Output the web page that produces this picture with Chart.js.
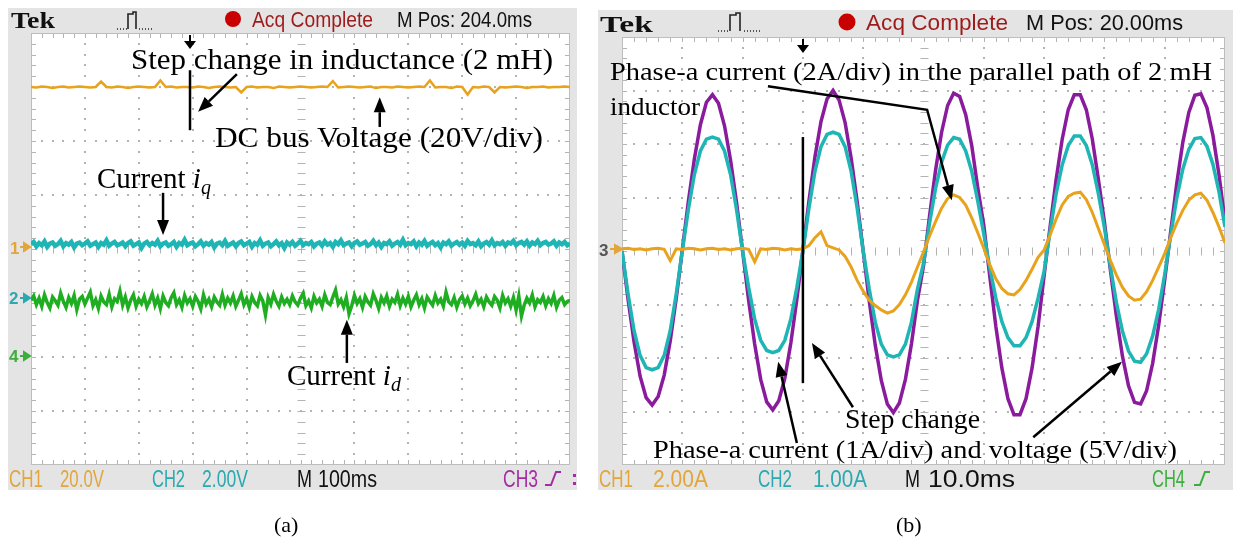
<!DOCTYPE html>
<html><head><meta charset="utf-8">
<script src="https://cdn.jsdelivr.net/npm/chart.js@4.4.1/dist/chart.umd.min.js"></script>
<style>
html,body{margin:0;padding:0;background:#fff;width:1243px;height:542px;overflow:hidden;position:relative}
canvas{position:absolute}
#ov{position:absolute;left:0;top:0;pointer-events:none}
.ser{font-family:'Liberation Serif','Times New Roman',serif}
.scp{font-family:'Liberation Sans Narrow','Liberation Sans',Arial,sans-serif}
</style></head><body>
<canvas id="ca" width="569" height="482" style="left:8px;top:8px"></canvas>
<canvas id="cb" width="635" height="480" style="left:598px;top:10px"></canvas>
<svg id="ov" width="1243" height="542" xmlns="http://www.w3.org/2000/svg">
  <!-- panel (a) header -->
  <text class="ser" x="11" y="28" font-size="23" font-weight="bold" textLength="44" lengthAdjust="spacingAndGlyphs" fill="#111">Tek</text>
  <path d="M117,29 h1 M120,29 h1 M123,29 h1 M126,29 h1 M128,29 V14 H133 V12 H136 V29 M139,29 h1 M142,29 h1 M145,29 h1 M148,29 h1 M151,29 h1" stroke="#222" stroke-width="1.6" fill="none"/>
  <circle cx="233" cy="19" r="8" fill="#c80000"/>
  <text class="scp" x="252" y="27" font-size="22" textLength="121" lengthAdjust="spacingAndGlyphs" fill="#9e1b1b">Acq Complete</text>
  <text class="scp" x="397" y="27" font-size="22" textLength="135" lengthAdjust="spacingAndGlyphs" fill="#111">M Pos: 204.0ms</text>
  <!-- panel (a) status -->
  <text class="scp" x="9" y="487" font-size="24" textLength="34" lengthAdjust="spacingAndGlyphs" fill="#e2a63a">CH1</text>
  <text class="scp" x="60" y="487" font-size="24" textLength="44" lengthAdjust="spacingAndGlyphs" fill="#e2a63a">20.0V</text>
  <text class="scp" x="152" y="487" font-size="24" textLength="33" lengthAdjust="spacingAndGlyphs" fill="#2aa9b0">CH2</text>
  <text class="scp" x="202" y="487" font-size="24" textLength="46" lengthAdjust="spacingAndGlyphs" fill="#2aa9b0">2.00V</text>
  <text class="scp" x="297" y="487" font-size="24" textLength="15" lengthAdjust="spacingAndGlyphs" fill="#111">M</text>
  <text class="scp" x="318" y="487" font-size="24" textLength="59" lengthAdjust="spacingAndGlyphs" fill="#111">100ms</text>
  <text class="scp" x="503" y="487" font-size="24" textLength="35" lengthAdjust="spacingAndGlyphs" fill="#a52aa5">CH3</text>
  <path d="M545,485 H551 L556,472 H561" stroke="#a52aa5" stroke-width="2" fill="none"/>
  <rect x="573" y="474" width="3" height="3" fill="#a52aa5"/><rect x="573" y="482" width="3" height="3" fill="#a52aa5"/>
  <!-- panel (a) channel markers -->
  <text class="scp" x="10" y="254" font-size="17" font-weight="bold" fill="#e2a63a">1</text>
  <path d="M20,247 H25 M24,243 L30,247 L24,251 Z" stroke="#e2a63a" stroke-width="2" fill="#e2a63a"/>
  <text class="scp" x="9" y="304" font-size="17" font-weight="bold" fill="#2aa9b0">2</text>
  <path d="M20,298 H25 M24,294 L30,298 L24,302 Z" stroke="#2aa9b0" stroke-width="2" fill="#2aa9b0"/>
  <text class="scp" x="9" y="362" font-size="17" font-weight="bold" fill="#3cae3c">4</text>
  <path d="M20,356 H25 M24,352 L30,356 L24,360 Z" stroke="#3cae3c" stroke-width="2" fill="#3cae3c"/>
  <!-- panel (a) annotations -->
  <text class="ser" x="131" y="69" font-size="29" textLength="422" lengthAdjust="spacingAndGlyphs" fill="#000">Step change in inductance (2 mH)</text>
  <text class="ser" x="215" y="147" font-size="29" textLength="328" lengthAdjust="spacingAndGlyphs" fill="#000">DC bus Voltage (20V/div)</text>
  <text class="ser" x="97" y="188" font-size="29" fill="#000">Current <tspan font-style="italic">i</tspan><tspan font-style="italic" font-size="20" dy="6">q</tspan></text>
  <text class="ser" x="287" y="385" font-size="29" fill="#000">Current <tspan font-style="italic">i</tspan><tspan font-style="italic" font-size="20" dy="6">d</tspan></text>
  <text class="ser" x="274" y="532" font-size="22" fill="#000">(a)</text>

  <!-- panel (b) header -->
  <text class="ser" x="600" y="32" font-size="24" font-weight="bold" textLength="53" lengthAdjust="spacingAndGlyphs" fill="#111">Tek</text>
  <path d="M718,31 h1 M721,31 h1 M724,31 h1 M727,31 h1 M730,31 V15 H736 V13 H740 V31 M744,31 h1 M747,31 h1 M750,31 h1 M753,31 h1 M756,31 h1 M759,31 h1" stroke="#222" stroke-width="1.6" fill="none"/>
  <circle cx="847" cy="22" r="8.5" fill="#c80000"/>
  <text class="scp" x="866" y="30" font-size="22" textLength="142" lengthAdjust="spacingAndGlyphs" fill="#9e1b1b">Acq Complete</text>
  <text class="scp" x="1026" y="30" font-size="22" textLength="157" lengthAdjust="spacingAndGlyphs" fill="#111">M Pos: 20.00ms</text>
  <!-- panel (b) status -->
  <text class="scp" x="599" y="487" font-size="24" textLength="34" lengthAdjust="spacingAndGlyphs" fill="#e2a63a">CH1</text>
  <text class="scp" x="653" y="487" font-size="24" textLength="55" lengthAdjust="spacingAndGlyphs" fill="#e2a63a">2.00A</text>
  <text class="scp" x="758" y="487" font-size="24" textLength="34" lengthAdjust="spacingAndGlyphs" fill="#2aa9b0">CH2</text>
  <text class="scp" x="813" y="487" font-size="24" textLength="54" lengthAdjust="spacingAndGlyphs" fill="#2aa9b0">1.00A</text>
  <text class="scp" x="905" y="487" font-size="24" textLength="15" lengthAdjust="spacingAndGlyphs" fill="#111">M</text>
  <text class="scp" x="928" y="487" font-size="24" textLength="87" lengthAdjust="spacingAndGlyphs" fill="#111">10.0ms</text>
  <text class="scp" x="1152" y="487" font-size="24" textLength="33" lengthAdjust="spacingAndGlyphs" fill="#3cae3c">CH4</text>
  <path d="M1194,485 H1200 L1205,472 H1210" stroke="#3cae3c" stroke-width="2" fill="none"/>
  <!-- panel (b) channel marker -->
  <text class="scp" x="599" y="256" font-size="17" font-weight="bold" fill="#555">3</text>
  <path d="M610,249 H616 M615,245 L622,249 L615,253 Z" stroke="#e2a63a" stroke-width="2" fill="#e2a63a"/>
  <!-- panel (b) annotations -->
  <text class="ser" x="610" y="80" font-size="26" textLength="602" lengthAdjust="spacingAndGlyphs" fill="#000">Phase-a current (2A/div) in the parallel path of 2 mH</text>
  <text class="ser" x="610" y="115" font-size="26" textLength="90" lengthAdjust="spacingAndGlyphs" fill="#000">inductor</text>
  <text class="ser" x="845" y="428" font-size="27" textLength="135" lengthAdjust="spacingAndGlyphs" fill="#000">Step change</text>
  <text class="ser" x="653" y="458" font-size="26" textLength="524" lengthAdjust="spacingAndGlyphs" fill="#000">Phase-a current (1A/div) and voltage (5V/div)</text>
  <text class="ser" x="896" y="532" font-size="22" fill="#000">(b)</text>
</svg>
<script>
// ---- data (values in screen divisions) ----
const coarseStep = 0.1;   // divisions between samples for the smooth traces
const fineStep = 0.05;    // divisions between samples for the noisy dq currents

// (a) 100 ms/div : DC bus voltage (CH1, coarse), current iq (CH2, fine), current id (CH4, fine)
const aDcBus = [3.00,2.99,3.01,3.00,2.98,3.00,3.01,2.99,3.00,3.01,
3.00,2.99,3.00,3.10,3.00,2.99,3.01,3.00,2.98,3.00,
3.01,3.00,2.99,3.00,3.12,3.00,3.01,2.99,3.00,3.00,
2.99,3.01,3.00,2.98,3.00,3.01,3.00,2.99,3.00,2.90,
3.00,3.01,2.99,3.00,3.00,2.98,3.01,3.00,2.99,3.00,
3.01,3.00,2.99,3.00,3.01,3.00,3.11,2.99,3.00,3.01,
3.00,2.99,3.00,3.01,2.98,3.00,3.00,2.99,3.01,3.00,
2.99,3.00,3.01,3.00,3.12,2.99,3.00,3.00,2.98,3.01,
3.00,2.86,3.00,2.99,3.01,3.00,2.90,3.00,2.99,3.00,
3.01,3.00,2.98,3.00,3.00,3.01,2.99,3.00,3.00,3.01,3.00];
const aIq = [0.09,0.13,0.05,0.11,0.07,0.14,0.04,0.10,0.12,0.06,0.09,0.15,0.05,0.11,0.08,0.13,0.03,0.10,0.12,0.07,
0.10,0.14,0.06,0.09,0.12,0.04,0.11,0.08,0.16,0.06,0.10,0.13,0.07,0.09,0.12,0.05,0.11,0.14,0.06,0.09,
0.12,0.02,0.10,0.13,0.07,0.11,0.08,0.15,0.05,0.10,0.12,0.06,0.09,0.13,0.04,0.11,0.08,0.17,0.07,0.10,
0.12,0.05,0.09,0.14,0.06,0.11,0.08,0.13,0.03,0.10,0.12,0.07,0.15,0.06,0.09,0.12,0.05,0.11,0.14,0.07,
0.10,0.13,0.04,0.11,0.08,0.16,0.06,0.10,0.12,0.05,0.09,0.14,0.07,0.11,0.02,0.12,0.08,0.13,0.06,0.10,
0.15,0.07,0.11,0.09,0.13,0.05,0.10,0.12,0.06,0.14,0.08,0.11,0.04,0.13,0.09,0.16,0.07,0.10,0.12,0.05,
0.11,0.14,0.08,0.10,0.13,0.06,0.09,0.15,0.07,0.12,0.04,0.11,0.09,0.14,0.06,0.10,0.13,0.08,0.17,0.07,
0.11,0.09,0.14,0.05,0.12,0.08,0.15,0.06,0.10,0.13,0.07,0.11,0.03,0.12,0.09,0.14,0.06,0.10,0.13,0.08,
0.12,0.06,0.15,0.09,0.11,0.07,0.14,0.05,0.10,0.13,0.08,0.16,0.07,0.11,0.09,0.13,0.06,0.12,0.10,0.15,
0.07,0.11,0.13,0.08,0.14,0.06,0.12,0.09,0.15,0.07,0.11,0.13,0.08,0.10,0.14,0.06,0.12,0.09,0.13,0.07,0.10];
const aId = [-0.95,-0.87,-1.03,-0.91,-1.06,-0.85,-0.99,-1.09,-0.89,-0.96,-1.04,-0.82,-0.97,-1.08,-0.90,-1.01,-0.86,-1.12,-0.93,-0.88,
-1.02,-0.91,-0.80,-1.05,-0.94,-1.10,-0.87,-0.98,-1.03,-0.84,-1.07,-0.92,-0.97,-0.78,-1.04,-0.89,-1.09,-0.95,-0.85,-1.06,
-0.93,-1.01,-0.88,-1.07,-0.96,-0.83,-1.04,-0.91,-1.10,-0.87,-0.99,-1.05,-0.90,-0.81,-1.03,-0.94,-1.08,-0.86,-1.00,-0.92,
-1.06,-0.88,-0.97,-1.11,-0.85,-1.02,-0.93,-1.07,-0.89,-0.98,-1.04,-0.84,-1.04,-0.91,-1.00,-0.87,-1.06,-0.95,-0.83,-1.03,
-0.92,-1.08,-0.88,-0.99,-1.05,-0.86,-0.96,-1.22,-0.90,-1.02,-0.84,-0.97,-1.06,-0.89,-1.01,-0.93,-1.03,-0.87,-0.98,-1.04,
-0.91,-0.82,-1.05,-0.96,-1.09,-0.88,-1.00,-0.93,-1.06,-0.85,-0.99,-1.03,-0.89,-0.76,-1.02,-0.94,-1.07,-0.90,-1.20,-1.05,
-0.86,-1.01,-0.92,-1.08,-0.88,-0.98,-1.04,-0.83,-0.95,-1.10,-0.90,-1.00,-0.87,-1.06,-0.93,-0.99,-0.84,-1.05,-0.91,-1.02,
-0.88,-1.07,-0.95,-0.85,-1.03,-0.92,-1.09,-0.89,-0.97,-1.04,-0.86,-1.00,-0.93,-1.06,-0.80,-0.98,-1.03,-0.90,-1.08,-0.94,
-0.87,-1.02,-0.91,-1.05,-0.96,-0.84,-1.01,-0.93,-1.07,-0.89,-0.98,-1.04,-0.88,-0.95,-1.09,-0.86,-1.00,-0.92,-1.06,-0.90,
-1.13,-0.87,-1.24,-1.04,-0.91,-1.00,-0.85,-1.07,-0.94,-0.99,-0.88,-1.05,-0.92,-1.01,-0.86,-1.08,-0.95,-0.90,-1.03,-0.97,-0.95];

// (b) 10 ms/div : phase-a voltage (purple), phase-a current (cyan), parallel-path current (orange)
const bVoltage = [0.00,-0.90,-1.70,-2.34,-2.74,-2.88,-2.72,-2.32,-1.68,-0.88,
0.02,0.92,1.72,2.36,2.78,2.92,2.76,2.34,1.70,0.90,
0.00,-0.92,-1.74,-2.40,-2.82,-2.97,-2.80,-2.38,-1.72,-0.90,
0.02,0.93,1.76,2.42,2.84,3.00,2.82,2.40,1.74,0.92,
0.00,-0.93,-1.76,-2.42,-2.86,-3.02,-2.84,-2.40,-1.74,-0.92,
-0.28,0.65,1.51,2.22,2.72,2.95,2.89,2.55,1.97,1.18,
0.48,-0.48,-1.41,-2.19,-2.76,-3.06,-3.06,-2.76,-2.19,-1.41,
-0.46,0.46,1.34,2.09,2.64,2.92,2.92,2.64,2.09,1.34,
0.54,-0.36,-1.23,-1.97,-2.52,-2.83,-2.86,-2.61,-2.10,-1.39,
-0.54,0.37,1.26,2.03,2.59,2.91,2.94,2.68,2.16,1.43,0.55];
const bCurrent = [0.00,-0.80,-1.49,-1.95,-2.18,-2.22,-2.18,-1.95,-1.49,-0.80,
0.00,0.77,1.43,1.87,2.09,2.13,2.09,1.87,1.43,0.77,
0.00,-0.68,-1.27,-1.67,-1.86,-1.90,-1.86,-1.67,-1.27,-0.68,
0.00,0.80,1.49,1.95,2.18,2.22,2.18,1.95,1.49,0.80,
0.00,-0.71,-1.33,-1.74,-1.94,-1.98,-1.94,-1.74,-1.33,-0.71,
-0.23,0.52,1.17,1.66,1.98,2.12,2.09,1.87,1.49,0.93,
0.32,-0.32,-0.88,-1.32,-1.62,-1.77,-1.77,-1.62,-1.32,-0.88,
-0.38,0.38,1.07,1.61,1.97,2.15,2.15,1.97,1.61,1.07,
0.44,-0.30,-0.97,-1.50,-1.87,-2.06,-2.08,-1.92,-1.59,-1.09,
-0.44,0.30,0.99,1.53,1.90,2.10,2.12,1.96,1.62,1.11,0.45];
const bParallel = [0.04,0.05,0.03,0.04,0.02,0.04,0.05,0.03,-0.18,0.04,
0.03,0.05,0.04,0.02,0.04,0.05,0.03,0.04,0.02,0.04,
0.05,0.03,-0.20,0.04,0.03,0.05,0.04,0.02,0.04,0.03,
0.04,0.10,0.25,0.36,0.10,0.06,0.02,-0.10,-0.30,-0.55,
-0.75,-0.92,-1.02,-1.10,-1.16,-1.12,-1.00,-0.82,-0.58,-0.30,
-0.02,0.28,0.55,0.80,0.98,1.05,1.00,0.86,0.62,0.34,
0.05,-0.26,-0.52,-0.70,-0.80,-0.82,-0.72,-0.55,-0.34,-0.12,
0.02,0.30,0.60,0.86,1.02,1.08,1.10,0.96,0.72,0.42,
0.12,-0.18,-0.45,-0.68,-0.84,-0.92,-0.90,-0.76,-0.55,-0.30,
-0.05,0.25,0.52,0.76,0.95,1.05,1.08,0.95,0.72,0.45,0.15];

// ---- styling ----
const ORANGE = '#e8a21c', CYAN = '#1fb5b5', GREEN = '#1fae22', PURPLE = '#8a1b9c';
const toPts = (arr, step) => arr.map((v, i) => ({x: i * step, y: v}));

const scopePlugin = {
  id: 'scope',
  beforeDraw(chart, args, o) {
    const {ctx, width, height, chartArea: a} = chart;
    const xs = chart.scales.x, ys = chart.scales.y;
    ctx.save();
    ctx.fillStyle = o.frame; ctx.fillRect(0, 0, width, height);
    ctx.fillStyle = '#ffffff'; ctx.fillRect(a.left, a.top, a.right - a.left, a.bottom - a.top);
    ctx.fillStyle = o.grid; ctx.strokeStyle = o.grid; ctx.lineWidth = 1;
    for (let i = 1; i < 10; i++) {
      if (i === 5) continue;
      const x = Math.round(xs.getPixelForValue(i));
      for (let k = 1; k < 40; k++) { const y = Math.round(ys.getPixelForValue(-4 + k * 0.2)); ctx.fillRect(x - 1, y - 1, 2, 2); }
    }
    for (let j = -3; j <= 3; j++) {
      if (j === 0) continue;
      const y = Math.round(ys.getPixelForValue(j));
      for (let k = 1; k < 50; k++) { const x = Math.round(xs.getPixelForValue(k * 0.2)); ctx.fillRect(x - 1, y - 1, 2, 2); }
    }
    const cx = Math.round(xs.getPixelForValue(5)) + 0.5, cy = Math.round(ys.getPixelForValue(0)) + 0.5;
    ctx.beginPath();
    for (let k = 1; k < 40; k++) { const y = Math.round(ys.getPixelForValue(-4 + k * 0.2)) + 0.5; ctx.moveTo(cx - 4, y); ctx.lineTo(cx + 4, y); }
    for (let k = 1; k < 50; k++) { const x = Math.round(xs.getPixelForValue(k * 0.2)) + 0.5; ctx.moveTo(x, cy - 4); ctx.lineTo(x, cy + 4); }
    for (let k = 1; k < 40; k++) { const y = Math.round(ys.getPixelForValue(-4 + k * 0.2)) + 0.5; ctx.moveTo(a.left, y); ctx.lineTo(a.left + 5, y); ctx.moveTo(a.right - 5, y); ctx.lineTo(a.right, y); }
    for (let k = 1; k < 50; k++) { const x = Math.round(xs.getPixelForValue(k * 0.2)) + 0.5; ctx.moveTo(x, a.top); ctx.lineTo(x, a.top + 5); ctx.moveTo(x, a.bottom - 5); ctx.lineTo(x, a.bottom); }
    ctx.stroke();
    ctx.strokeStyle = '#bdbdbd';
    ctx.strokeRect(a.left + 0.5, a.top + 0.5, a.right - a.left - 1, a.bottom - a.top - 1);
    ctx.restore();
  },
  afterDatasetsDraw(chart, args, o) {
    const {ctx, chartArea: a} = chart;
    const xs = chart.scales.x, ys = chart.scales.y;
    const P = p => [xs.getPixelForValue(p[0]), ys.getPixelForValue(p[1])];
    ctx.save();
    ctx.strokeStyle = '#000'; ctx.fillStyle = '#000'; ctx.lineWidth = 2.5; ctx.lineCap = 'butt';
    (o.lines || []).forEach(l => {
      const pts = l.map(P); ctx.beginPath(); ctx.moveTo(pts[0][0], pts[0][1]);
      pts.slice(1).forEach(p => ctx.lineTo(p[0], p[1])); ctx.stroke();
    });
    (o.arrows || []).forEach(l => {
      const pts = l.map(P); const n = pts.length;
      const [tx, ty] = pts[n - 1], [px, py] = pts[n - 2];
      const ang = Math.atan2(ty - py, tx - px), L = 15, W = 6;
      const bx = tx - L * Math.cos(ang), by = ty - L * Math.sin(ang);
      ctx.beginPath(); ctx.moveTo(pts[0][0], pts[0][1]);
      for (let i = 1; i < n - 1; i++) ctx.lineTo(pts[i][0], pts[i][1]);
      ctx.lineTo(bx, by); ctx.stroke();
      ctx.beginPath(); ctx.moveTo(tx, ty);
      ctx.lineTo(bx + W * Math.sin(ang), by - W * Math.cos(ang));
      ctx.lineTo(bx - W * Math.sin(ang), by + W * Math.cos(ang));
      ctx.closePath(); ctx.fill();
    });
    if (o.trigger != null) {
      const x = Math.round(xs.getPixelForValue(o.trigger));
      ctx.fillRect(x - 1, a.top + 2, 2, 8);
      ctx.beginPath(); ctx.moveTo(x - 6, a.top + 8); ctx.lineTo(x + 6, a.top + 8); ctx.lineTo(x, a.top + 16); ctx.closePath(); ctx.fill();
    }
    ctx.restore();
  }
};

function scopeChart(id, datasets, padding, scopeOpts) {
  return new Chart(document.getElementById(id), {
    type: 'line',
    data: {datasets},
    options: {
      responsive: false, animation: false, devicePixelRatio: 1, events: [],
      layout: {padding},
      elements: {point: {radius: 0}, line: {tension: 0, fill: false}},
      plugins: {legend: {display: false}, tooltip: {enabled: false}, scope: scopeOpts},
      scales: {
        x: {type: 'linear', min: 0, max: 10, display: false},
        y: {type: 'linear', min: -4, max: 4, display: false}
      }
    },
    plugins: [scopePlugin]
  });
}

scopeChart('ca', [
  {data: toPts(aDcBus, coarseStep), borderColor: ORANGE, borderWidth: 2.5, order: 0},
  {data: toPts(aIq, fineStep), borderColor: CYAN, borderWidth: 4.5, order: 1},
  {data: toPts(aId, fineStep), borderColor: GREEN, borderWidth: 3.5, order: 2}
], {left: 23, top: 25, right: 7, bottom: 25}, {
  frame: '#e4e4e4', grid: '#b3b3b3', trigger: 2.95,
  lines: [[[2.95, 3.31], [2.95, 2.2]]],
  arrows: [
    [[3.82, 3.24], [3.10, 2.54]],
    [[6.47, 2.26], [6.47, 2.81]],
    [[2.45, 1.04], [2.45, 0.26]],
    [[5.86, -2.11], [5.86, -1.31]]
  ]
});

scopeChart('cb', [
  {data: toPts(bParallel, coarseStep), borderColor: ORANGE, borderWidth: 3, order: 0},
  {data: toPts(bCurrent, coarseStep), borderColor: CYAN, borderWidth: 3.5, order: 1},
  {data: toPts(bVoltage, coarseStep), borderColor: PURPLE, borderWidth: 3.5, order: 2}
], {left: 24, top: 27, right: 8, bottom: 25}, {
  frame: '#e4e4e4', grid: '#b3b3b3', trigger: 3.0,
  lines: [[[3.0, 2.13], [3.0, -2.47]]],
  arrows: [
    [[2.42, 3.08], [5.06, 2.64], [5.47, 0.95]],
    [[3.83, -2.92], [3.15, -1.72]],
    [[2.90, -3.59], [2.59, -2.07]],
    [[6.82, -3.48], [8.29, -2.07]]
  ]
});
</script>
</body></html>
